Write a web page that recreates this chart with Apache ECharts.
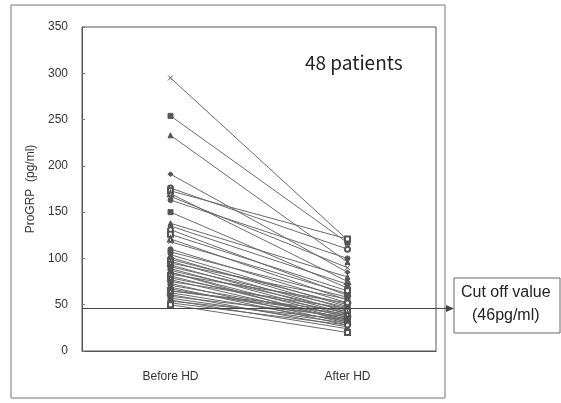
<!DOCTYPE html>
<html>
<head>
<meta charset="utf-8">
<script src="https://cdn.jsdelivr.net/npm/echarts@6/dist/echarts.min.js"></script>
<style>html,body{margin:0;padding:0;background:#fff}#c{width:561px;height:403px}</style>
</head>
<body>
<div id="c"></div>
<script>
var categories = ['Before HD', 'After HD'];
var beforeHD = [295,254,233,191,176,173,170,167,163,150,138,135,131,126,121,118,110,107,104,101,99,97,95,93,91,89,87,85,83,81,79,77,75,73,71,69,67,65,63,61,59,57,55,54,52,50,65,85];
var afterHD  = [120,117,96,85,110,121,75,90,100,68,80,72,60,65,55,62,52,58,48,45,50,42,56,40,47,38,44,36,52,34,41,33,46,30,38,28,35,43,32,26,37,30,24,34,28,20,40,31];
var yTicks = [0,50,100,150,200,250,300,350];
var cutOff = 46;
var patientsLabel = '48 patients';
var cutLabel = ['Cut off value', '(46pg/ml)'];

var crossPath = 'path://M0,0L10,10M10,0L0,10';
var symbols = ['circle','rect','triangle','diamond','emptyCircle','emptyRect','emptyTriangle', crossPath];

var chart = echarts.init(document.getElementById('c'));
var series = beforeHD.map(function (b, i) {
  var s = {
    type: 'line',
    data: [b, afterHD[i]],
    symbol: i === 0 ? crossPath : symbols[i % symbols.length],
    symbolSize: 5,
    showSymbol: true,
    animation: false,
    silent: true,
    lineStyle: { color: '#6a6a6a', width: 1 },
    itemStyle: { color: '#555', borderColor: '#555', borderWidth: 1 }
  };
  if (i === 0) {
    s.markLine = {
      silent: true, symbol: 'none', animation: false,
      label: { show: false },
      lineStyle: { color: '#444', width: 1, type: 'solid' },
      data: [{ yAxis: cutOff }]
    };
  }
  return s;
});

chart.setOption({
  animation: false,
  grid: { left: 82, right: 125, top: 27, bottom: 52, show: true, borderColor: '#555', borderWidth: 1, backgroundColor: 'transparent' },
  xAxis: {
    type: 'category', data: categories, boundaryGap: true,
    axisLine: { show: true, lineStyle: { color: '#555' } },
    axisTick: { show: false },
    axisLabel: { margin: 20, color: '#333', fontSize: 12, fontFamily: 'Liberation Sans' }
  },
  yAxis: {
    type: 'value', min: 0, max: 350, interval: 50,
    name: 'ProGRP  (pg/ml)', nameLocation: 'middle', nameGap: 45, nameRotate: 90,
    nameTextStyle: { color: '#333', fontSize: 12, fontFamily: 'Liberation Sans' },
    axisLine: { show: true, lineStyle: { color: '#555' } },
    axisTick: { show: true, inside: true, length: 3, lineStyle: { color: '#777' } },
    splitLine: { show: false },
    axisLabel: { margin: 14, color: '#333', fontSize: 12, fontFamily: 'Liberation Sans',
      formatter: function (v) { return yTicks.indexOf(v) >= 0 ? String(v) : ''; } }
  },
  series: series
});

var yCut = chart.convertToPixel({ yAxisIndex: 0 }, cutOff);
var gridRight = 561 - 125;
chart.setOption({
  graphic: [
    { type: 'rect', shape: { x: 11, y: 5, width: 434, height: 393 }, style: { fill: 'none', stroke: '#777', lineWidth: 1 }, silent: true },
    { type: 'line', shape: { x1: gridRight, y1: yCut, x2: 448, y2: yCut }, style: { stroke: '#444', lineWidth: 1 }, silent: true },
    { type: 'polygon', shape: { points: [[446, yCut - 3.5], [454, yCut], [446, yCut + 3.5]] }, style: { fill: '#444' }, silent: true },
    { type: 'rect', shape: { x: 454, y: 278, width: 106, height: 55 }, style: { fill: '#fff', stroke: '#666', lineWidth: 1 }, silent: true },
    { type: 'text', left: 461, top: 285, style: { text: cutLabel[0], fill: '#222', font: '16px "Liberation Sans"' }, silent: true },
    { type: 'text', left: 472, top: 308, style: { text: cutLabel[1], fill: '#222', font: '16px "Liberation Sans"' }, silent: true },
    { type: 'text', left: 305, top: 53, style: { text: patientsLabel, fill: '#222', font: '19px "Noto Sans CJK JP"' }, silent: true }
  ]
});
</script>
</body>
</html>
